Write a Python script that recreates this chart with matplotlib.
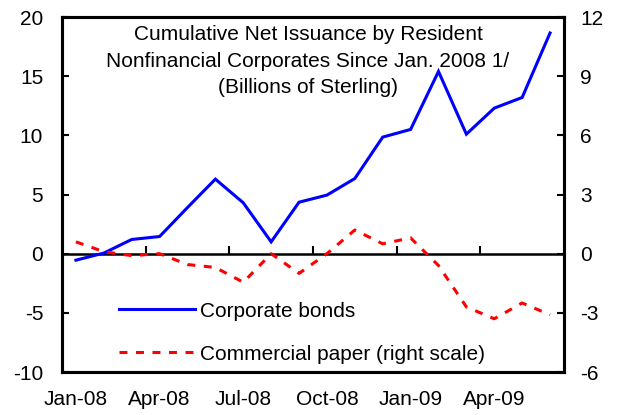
import matplotlib
matplotlib.use("Agg")
import matplotlib.pyplot as plt
import numpy as np

plt.rcParams["font.family"] = ["Liberation Sans", "DejaVu Sans"]
plt.rcParams["axes.unicode_minus"] = False

# Monthly data, Jan-08 .. Jun-09
months = ["Jan-08", "Feb-08", "Mar-08", "Apr-08", "May-08", "Jun-08",
          "Jul-08", "Aug-08", "Sep-08", "Oct-08", "Nov-08", "Dec-08",
          "Jan-09", "Feb-09", "Mar-09", "Apr-09", "May-09", "Jun-09"]
corporate_bonds = [-0.55, 0.05, 1.2, 1.45, 3.9, 6.3, 4.3, 1.0, 4.35,
                   4.95, 6.35, 9.85, 10.5, 15.4, 10.1, 12.3, 13.2, 18.65]
commercial_paper = [0.6, 0.1, -0.1, 0.0, -0.55, -0.7, -1.45, 0.0, -1.0,
                    0.0, 1.2, 0.5, 0.8, -0.6, -2.7, -3.3, -2.5, -3.1]

BLUE = "#0000ff"
RED = "#ff0000"
FS = 15

x = np.arange(len(months))

fig = plt.figure(figsize=(6.18, 4.15), dpi=100)
ax = fig.add_axes([0.1003, 0.1036, 0.8123, 0.8554])
ax2 = ax.twinx()

l1, = ax.plot(x, corporate_bonds, color=BLUE, lw=2.2, solid_joinstyle="miter")
l2, = ax2.plot(x, commercial_paper, color=RED, lw=2.2, dashes=(2.6, 2.8))

ax.set_xlim(-0.5, len(months) - 0.5)
ax.set_ylim(-10, 20)
ax.set_yticks(np.arange(-10, 21, 5))
ax2.set_ylim(-6, 12)
ax2.set_yticks(np.arange(-6, 13, 3))

# category labels every quarter, no tick marks on the bottom frame
ax.set_xticks(x[::3])
ax.set_xticklabels(months[::3])
ax.tick_params(axis="x", length=0, pad=13, labelsize=FS)
ax.tick_params(axis="y", direction="in", length=5, width=1.5,
               pad=13.5, labelsize=FS)
ax2.tick_params(axis="y", direction="in", length=5, width=1.5,
                pad=11.5, labelsize=FS)

for a in (ax, ax2):
    for s in a.spines.values():
        s.set_linewidth(2.2)

# zero line with quarterly boundary ticks
zero = ax.secondary_xaxis(1 / 3)
zero.set_xticks(x[3::3] - 0.5)
zero.tick_params(axis="x", direction="in", length=5.5, width=1.5,
                 labelbottom=False, labeltop=False)
for s in zero.spines.values():
    s.set_linewidth(1.8)

ax.text(0.49, 0.876,
        "Cumulative Net Issuance by Resident\n"
        "Nonfinancial Corporates Since Jan. 2008 1/\n"
        "(Billions of Sterling)",
        transform=ax.transAxes, ha="center", va="center",
        fontsize=FS, linespacing=1.53)

ax.legend([l1, l2], ["Corporate bonds", "Commercial paper (right scale)"],
          loc="lower left", bbox_to_anchor=(0.097, 0.0), frameon=False,
          fontsize=FS, handlelength=3.65, handletextpad=0.25,
          labelspacing=1.16, borderaxespad=0.0)

fig.savefig("out.png", dpi=100)
